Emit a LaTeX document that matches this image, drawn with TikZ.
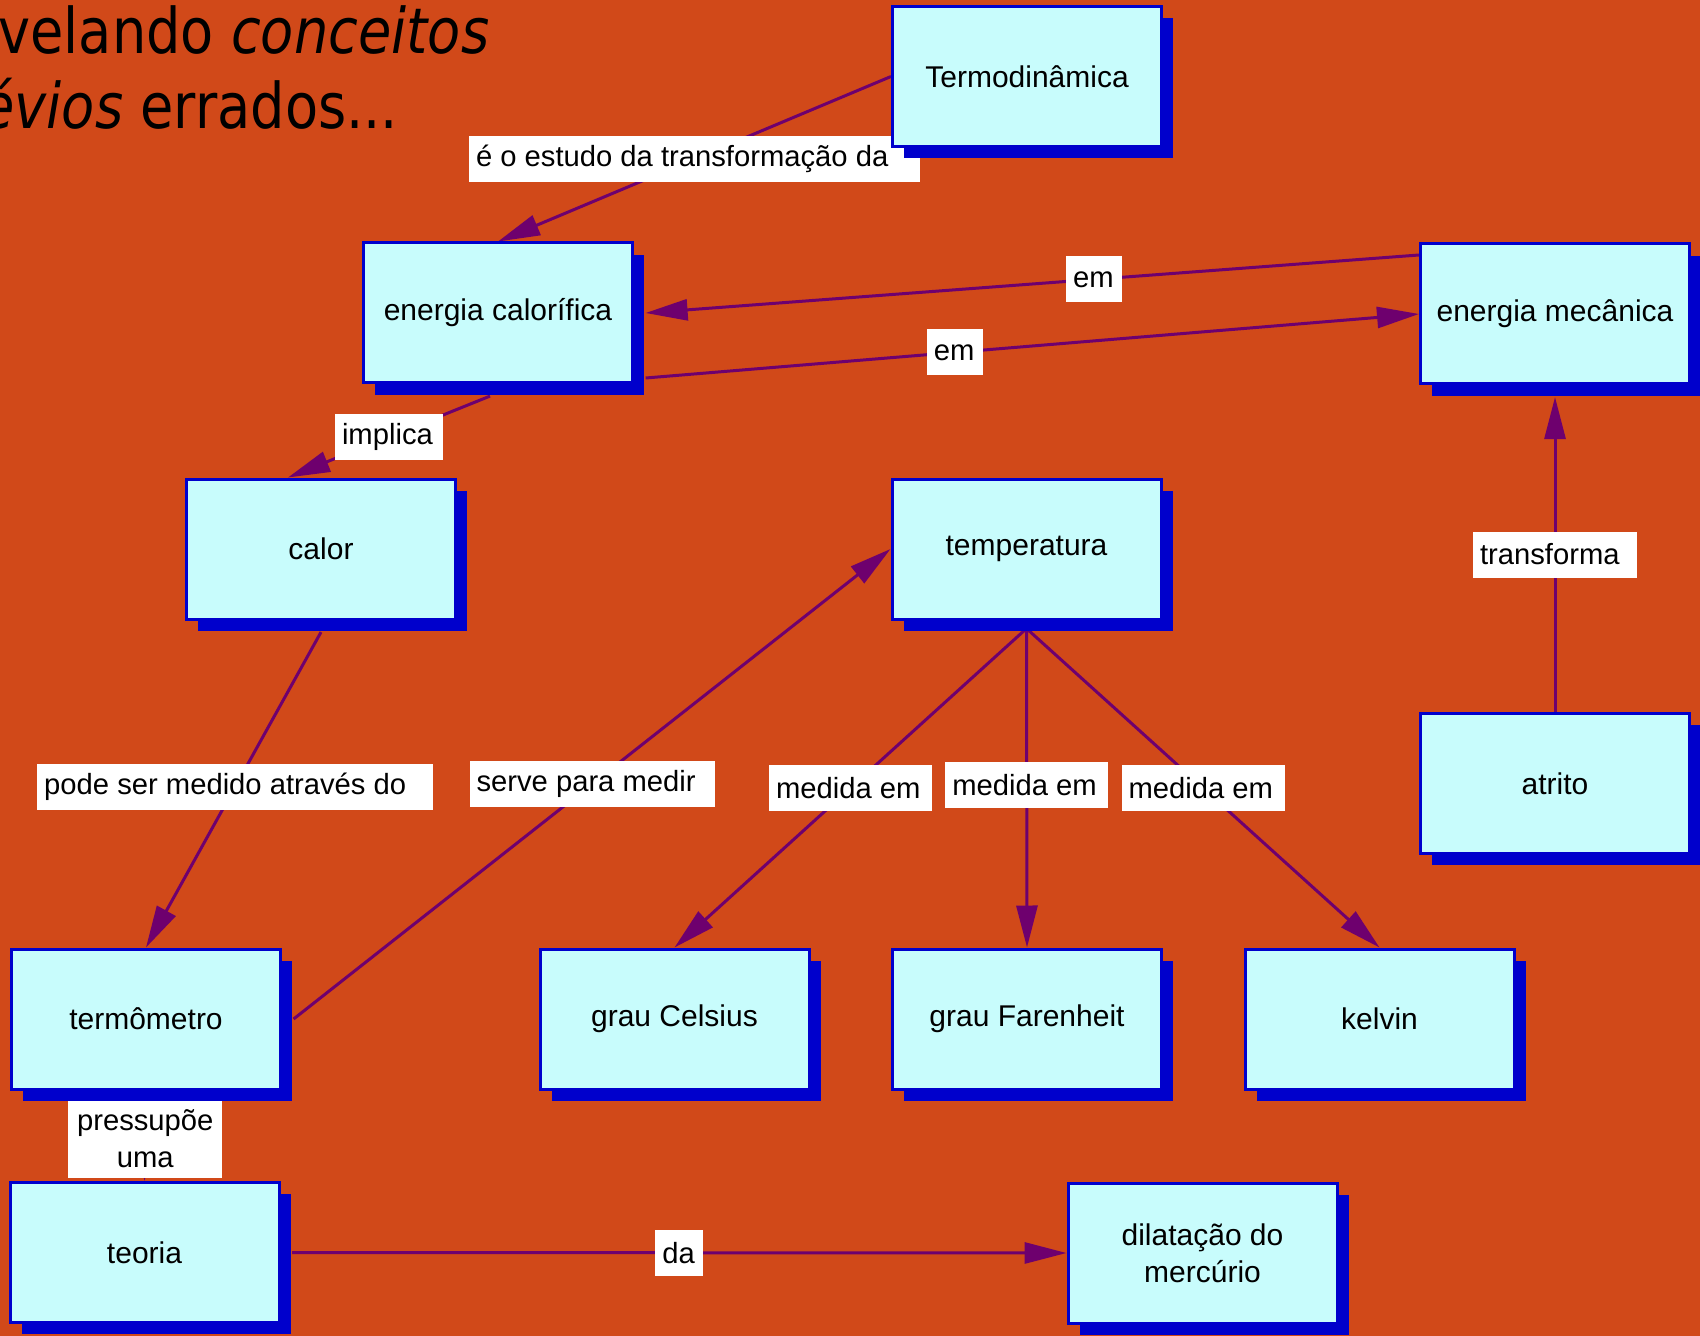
\documentclass[tikz,border=0pt]{standalone}
\usepackage{fontspec}
\setmainfont{Liberation Sans}
\newfontfamily\titlefont[FakeStretch=0.86]{DejaVu Sans}
\usetikzlibrary{positioning,shadows,arrows.meta}

\definecolor{slidebg}{HTML}{D14919}
\definecolor{conceptfill}{HTML}{C8FCFC}
\definecolor{conceptline}{HTML}{0000CC}
\definecolor{linkpurple}{HTML}{6E006E}

\pgfdeclarelayer{bg}
\pgfdeclarelayer{links}
\pgfsetlayers{bg,links,main}

\tikzset{
  concept/.style={rectangle, draw=conceptline, line width=1.5pt, fill=conceptfill,
    minimum width=134.5pt, minimum height=70pt, align=center,
    font=\fontsize{15}{18.5}\selectfont,
    drop shadow={shadow xshift=5.8pt, shadow yshift=-5.8pt, fill=conceptline, opacity=1}},
  linkword/.style={rectangle, fill=white, inner xsep=3.5pt, inner ysep=0pt,
    minimum height=23pt, text width=#1, align=flush left,
    font=\fontsize{14.6}{18.5}\selectfont},
  link/.style={draw=linkpurple, line width=1.5pt,
    -{Triangle[length=21pt, width=10.5pt, fill=linkpurple]}},
}

\begin{document}
\begin{tikzpicture}[x=0.5pt, y=-0.5pt, node distance=176.25pt]
    \begin{pgfonlayer}{bg}
        \fill[slidebg] (0,0) rectangle (1700,1336);
    \end{pgfonlayer}
    \useasboundingbox (0,0) rectangle (1700,1336);

    % slide title, cut at the left edge
    \node[anchor=base west, inner sep=0pt, font=\titlefont\fontsize{31.5}{37}\selectfont] (title1) at (-2,54) {velando \textit{conceitos}};
    \node[anchor=base west, inner sep=0pt, font=\titlefont\fontsize{31.5}{37}\selectfont] (title2) at (-19,129) {\textit{évios} errados...};

    % concepts
    \node[concept] (termo) at (1027,76.5) {Termodinâmica};
    \node[concept] (ecal) at (498,313) {energia calorífica};
    \node[concept] (emec) at (1555,314) {energia mecânica};
    \node[concept] (calor) at (321,549) {calor};
    \node[concept] (temp) at (1026.5,549) {temperatura};
    \node[concept] (atrito) at (1555,783.5) {atrito};
    \node[concept] (termom) at (146,1019) {termômetro};
    \node[concept] (celsius) at (674.5,1019) {grau Celsius};
    \node[concept, right of=celsius] (faren) {grau Farenheit};
    \node[concept, right of=faren] (kelvin) {kelvin};
    \node[concept] (teoria) at (144.5,1252.5) {teoria};
    \node[concept] (dilat) at (1202.5,1253) {dilatação do\\mercúrio};

    % links
    \begin{pgfonlayer}{links}
    \path
        (termo.west) edge[link] node[linkword=218.5pt] {é o estudo da transformação da} (ecal.north)
        ([yshift=29.5pt]emec.west) edge[link] node[pos=0.42, linkword=21pt] {em} ([xshift=5.8pt]ecal.east)
        ([xshift=5.8pt, yshift=-32.5pt]ecal.east) edge[link] node[pos=0.4, linkword=21pt] {em} (emec.west)
        ([xshift=-4pt, yshift=-5.8pt]ecal.south) edge[link] node[linkword=47pt] {implica} ([xshift=-16.5pt]calor.north)
        ([yshift=-5.8pt]calor.south) edge[link] node[pos=0.49, linkword=191pt] {pode ser medido através do} (termom.north)
        ([xshift=5.8pt]termom.east) edge[link] node[linkword=115.5pt] {serve para medir} (temp.west)
        ([yshift=-4pt]temp.south) edge[link] node[linkword=74.5pt] {medida em} (celsius.north)
        ([yshift=-4pt]temp.south) edge[link] node[pos=0.49, linkword=74.5pt] {medida em} (faren.north)
        ([yshift=-4pt]temp.south) edge[link] node[linkword=74.5pt] {medida em} (kelvin.north)
        (atrito.north) edge[link] node[linkword=75pt] {transforma} ([yshift=-5.8pt]emec.south)
        ([yshift=-5.8pt]termom.south) edge[link] node[linkword=70pt, align=flush center, minimum height=39.5pt, yshift=1.5pt] {pressupõe\\uma\\[3pt]} (teoria.north)
        ([xshift=5.8pt]teoria.east) edge[link] node[linkword=17pt] {da} (dilat.west);
    \end{pgfonlayer}
\end{tikzpicture}
\end{document}
